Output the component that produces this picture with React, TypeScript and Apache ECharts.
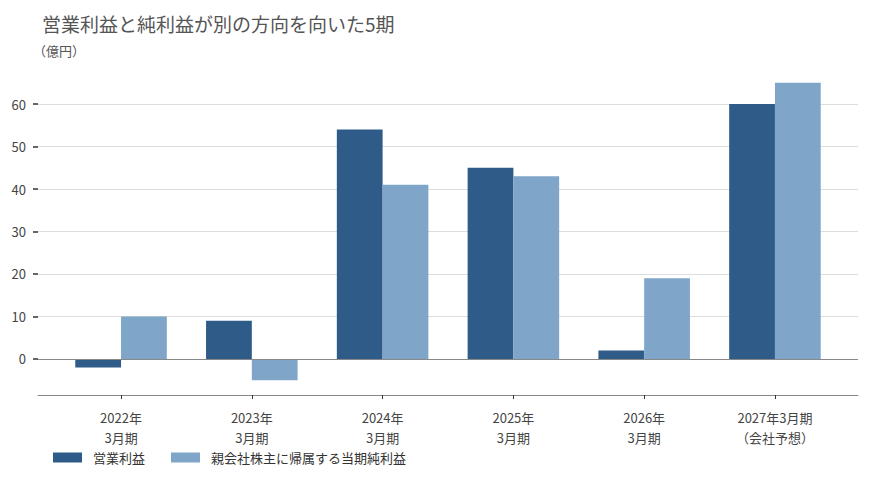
import { useEffect, useRef } from "react";
import * as echarts from "echarts";

const categories = [
  "2022年\n3月期",
  "2023年\n3月期",
  "2024年\n3月期",
  "2025年\n3月期",
  "2026年\n3月期",
  "2027年3月期\n（会社予想）",
];
const operatingProfit = [-2, 9, 54, 45, 2, 60];
const netProfit = [10, -5, 41, 43, 19, 65];
const yTicks = [0, 10, 20, 30, 40, 50, 60];
const seriesNames = ["営業利益", "親会社株主に帰属する当期純利益"];

const FONT = "'Noto Sans CJK JP', 'Noto Sans', sans-serif";
const DARK = "#2e5b87";
const LIGHT = "#7fa6c9";

// matplotlib-like extents: bars are 0.35 wide, 5% margin each side
const X_MIN = -0.635;
const X_MAX = categories.length - 1 + 0.635;
const GRID_LEFT = 38;
const GRID_RIGHT = 12;
const WIDTH = 870;
const HEIGHT = 477;

export default function App() {
  const ref = useRef<HTMLDivElement>(null);

  useEffect(() => {
    if (!ref.current) return;
    const chart = echarts.init(ref.current, null, { renderer: "svg" });
    const plotW = WIDTH - GRID_LEFT - GRID_RIGHT;
    const barWidth = (0.35 * plotW) / (X_MAX - X_MIN);

    chart.setOption({
      animation: false,
      backgroundColor: "#ffffff",
      textStyle: { fontFamily: FONT },
      title: [
        {
          text: "営業利益と純利益が別の方向を向いた5期",
          left: 37,
          top: 9,
          textStyle: { fontSize: 19, fontWeight: "normal", color: "#555", fontFamily: FONT },
        },
        {
          text: "（億円）",
          left: 28,
          top: 39,
          textStyle: { fontSize: 13, fontWeight: "normal", color: "#555", fontFamily: FONT },
        },
      ],
      legend: {
        left: 48,
        top: 446,
        itemWidth: 29,
        itemHeight: 10,
        itemGap: 26,
        icon: "rect",
        textStyle: { fontSize: 13, color: "#333", fontFamily: FONT, padding: [0, 0, 0, 6] },
        data: seriesNames,
      },
      grid: { left: GRID_LEFT, right: GRID_RIGHT, top: 68, bottom: 82, containLabel: false },
      xAxis: {
        type: "value",
        min: X_MIN,
        max: X_MAX,
        axisLine: { show: true, onZero: false, lineStyle: { color: "#888", width: 1 } },
        axisTick: { show: true, customValues: categories.map((_, i) => i), length: 4, lineStyle: { color: "#333" } },
        axisLabel: {
          customValues: categories.map((_, i) => i),
          formatter: (v: number) => categories[Math.round(v)] ?? "",
          fontSize: 13,
          lineHeight: 20,
          color: "#444",
          margin: 12,
          fontFamily: FONT,
        },
        splitLine: { show: false },
      },
      yAxis: {
        type: "value",
        position: "left",
        min: -8.5,
        max: 68.5,
        axisLine: { show: false, onZero: false },
        axisTick: { show: true, inside: false, customValues: yTicks, length: 5, lineStyle: { color: "#333", width: 1.5 } },
        axisLabel: { customValues: yTicks, fontSize: 13, color: "#444", margin: 12, fontFamily: FONT },
        splitLine: { show: true, lineStyle: { color: "#dddddd", width: 1 } },
      },
      series: [
        {
          name: seriesNames[0],
          type: "bar",
          data: operatingProfit.map((v, i) => [i, v]),
          barWidth,
          barGap: "0%",
          itemStyle: { color: DARK },
          markLine: {
            silent: true,
            symbol: ["none", "none"],
            label: { show: false },
            lineStyle: { color: "#888", type: "solid", width: 1 },
            data: [{ yAxis: 0 }],
          },
        },
        {
          name: seriesNames[1],
          type: "bar",
          data: netProfit.map((v, i) => [i, v]),
          barWidth,
          barGap: "0%",
          itemStyle: { color: LIGHT },
        },
      ],
    });

    return () => chart.dispose();
  }, []);

  return (
    <div
      ref={ref}
      style={{ position: "absolute", left: 0, top: 0, width: WIDTH, height: HEIGHT }}
    />
  );
}
